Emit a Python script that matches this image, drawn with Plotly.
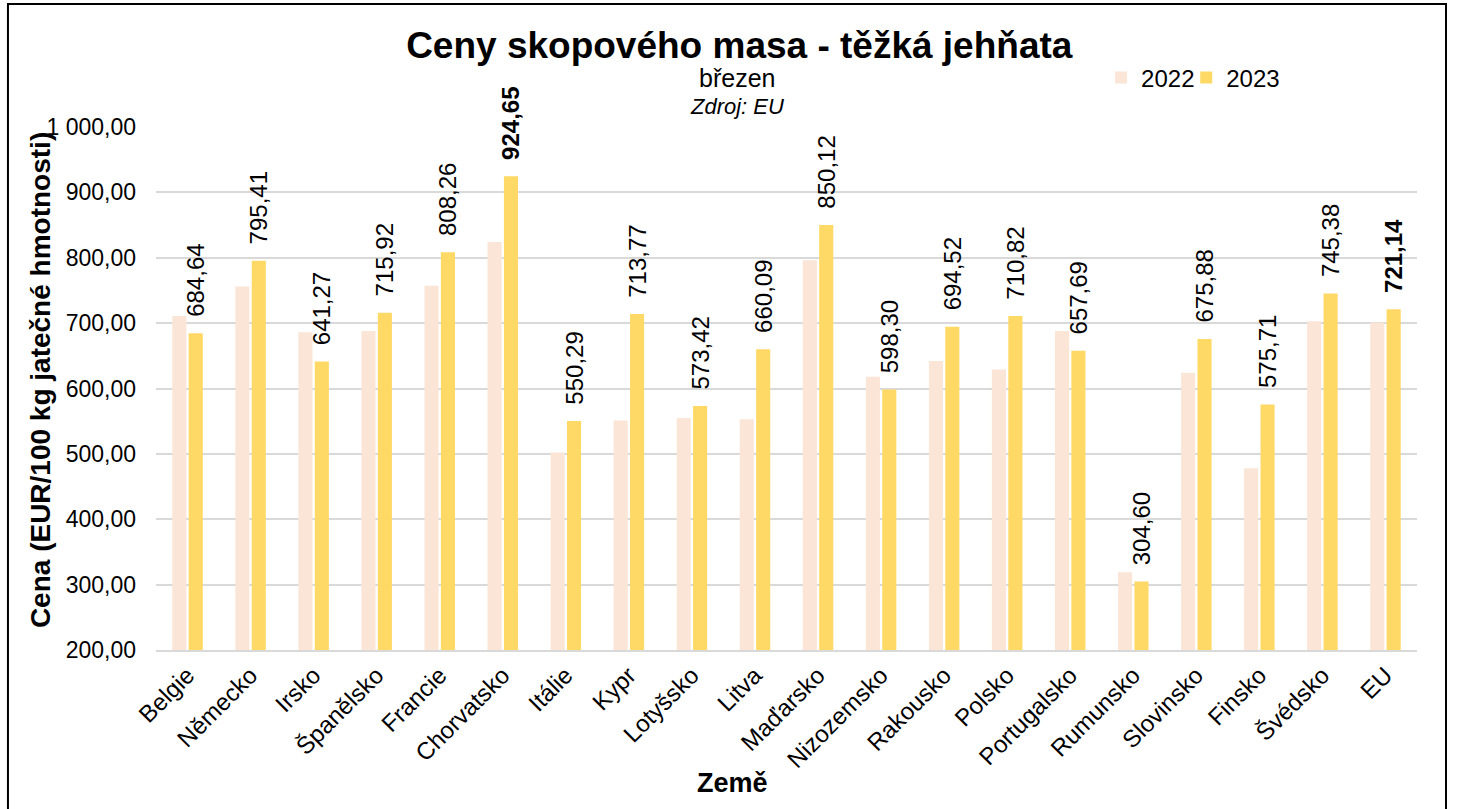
import plotly.graph_objects as go

countries = ["Belgie", "Německo", "Irsko", "Španělsko", "Francie", "Chorvatsko", "Itálie",
             "Kypr", "Lotyšsko", "Litva", "Maďarsko", "Nizozemsko", "Rakousko", "Polsko",
             "Portugalsko", "Rumunsko", "Slovinsko", "Finsko", "Švédsko", "EU"]
values_2022 = [711, 756, 686, 688, 757, 824, 502, 551, 555, 553, 796, 618, 642, 629,
               688, 319, 624, 478, 703, 701]
values_2023 = [684.64, 795.41, 641.27, 715.92, 808.26, 924.65, 550.29, 713.77, 573.42, 660.09,
               850.12, 598.30, 694.52, 710.82, 657.69, 304.60, 675.88, 575.71, 745.38, 721.14]
bold_labels = ["Chorvatsko", "EU"]
y_ticks = [200, 300, 400, 500, 600, 700, 800, 900, 1000]

FONT = "Liberation Sans, Arial, sans-serif"
NB = "\u00a0\u00a0"

labels_2023 = []
for c, v in zip(countries, values_2023):
    s = f"{v:.2f}".replace(".", ",")
    labels_2023.append(NB + (f"<b>{s}</b>" if c in bold_labels else s))

fig = go.Figure()
fig.add_trace(go.Bar(name="2022", x=countries, y=values_2022, legend="legend",
                     marker=dict(color="#FBE5D6", line=dict(width=0))))
fig.add_trace(go.Bar(name="2023", x=countries, y=values_2023, legend="legend2",
                     marker=dict(color="#FFD966", line=dict(width=0)),
                     text=labels_2023, textposition="outside", textangle=-90,
                     constraintext="none", cliponaxis=False,
                     textfont=dict(family=FONT, size=24, color="#000000")))

legend_style = dict(orientation="h", y=1.0937, xanchor="left", yanchor="middle",
                    font=dict(family=FONT, size=24, color="#000000"),
                    bgcolor="rgba(0,0,0,0)", itemwidth=30)

fig.update_layout(
    width=1461, height=809,
    margin=dict(l=156, r=44, t=127, b=159),
    paper_bgcolor="white", plot_bgcolor="white",
    separators=", ",
    barmode="group", bargap=0.48, bargroupgap=0.14,
    font=dict(family=FONT, color="#000000"),
    title=dict(text="<b>Ceny skopového masa - těžká jehňata</b>",
               font=dict(family=FONT, size=37, color="#000000"),
               x=0.506, xanchor="center", y=0.944, yanchor="middle"),
    legend=dict(x=0.7495, **legend_style),
    legend2=dict(x=0.817, **legend_style),
    showlegend=True,
)

fig.update_yaxes(range=[200, 1000], tickvals=y_ticks, tickformat=",.2f",
                 showgrid=True, gridcolor="#D9D9D9", gridwidth=1.5,
                 zeroline=False, showline=False, ticks="",
                 tickfont=dict(family=FONT, size=23, color="#000000"),
                 ticklabelstandoff=19)
fig.update_xaxes(tickangle=-45, showline=True, linecolor="#D9D9D9", linewidth=1.5,
                 ticks="", tickfont=dict(family=FONT, size=24, color="#000000"))

fig.add_annotation(text="<b>Cena (EUR/100 kg jatečné hmotnosti)</b>", xref="paper", yref="paper",
                   x=-0.092, y=0.516, textangle=-90, showarrow=False,
                   font=dict(family=FONT, size=28, color="#000000"),
                   xanchor="center", yanchor="middle")
fig.add_annotation(text="<b>Země</b>", xref="paper", yref="paper", x=0.457, y=-0.254,
                   showarrow=False, font=dict(family=FONT, size=27, color="#000000"),
                   xanchor="center", yanchor="middle")
fig.add_annotation(text="březen", xref="paper", yref="paper", x=0.461, y=1.0937,
                   showarrow=False, font=dict(family=FONT, size=25, color="#000000"),
                   xanchor="center", yanchor="middle")
fig.add_annotation(text="<i>Zdroj: EU</i>", xref="paper", yref="paper", x=0.461, y=1.040,
                   showarrow=False, font=dict(family=FONT, size=22, color="#000000"),
                   xanchor="center", yanchor="middle")

fig.add_shape(type="rect", xref="paper", yref="paper",
              x0=-0.1174, x1=1.023, y0=-0.32, y1=1.235,
              line=dict(color="#000000", width=2), fillcolor="rgba(0,0,0,0)", layer="above")

fig.write_html("out.html", config={"displayModeBar": False},
               post_script="document.body.style.margin='0';document.body.style.overflow='hidden';")
